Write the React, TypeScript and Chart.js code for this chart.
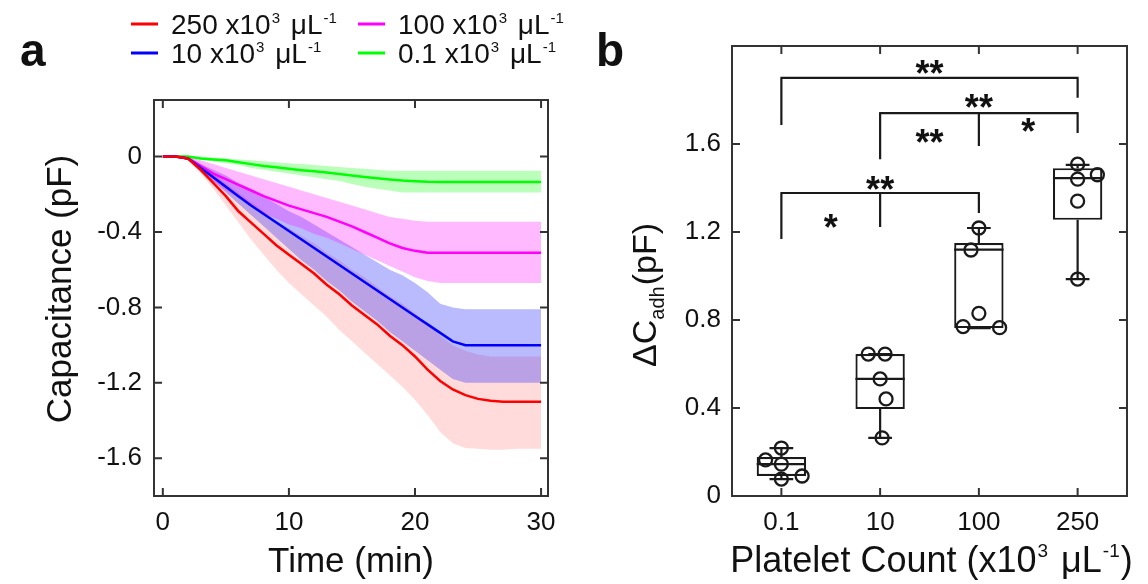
import React, { useEffect, useRef } from 'react';
import { Chart, registerables } from 'chart.js';

Chart.register(...registerables);

const FONT = '"Liberation Sans", Arial, Helvetica, sans-serif';
const INK = '#111111';
const FRAME = '#333333';

// ---------- Panel a: capacitance change over time (mean and spread) ----------
const TIME_MIN = [0, 1, 2, 3, 4, 5, 6, 7, 8, 9, 10, 11, 12, 13, 14, 15, 16, 17, 18, 19, 20, 21, 22, 23, 24, 25, 26, 27, 28, 29, 30];

const MEAN_250 = [0, 0, -0.01, -0.07, -0.14, -0.21, -0.29, -0.35, -0.41, -0.47, -0.52, -0.57, -0.62, -0.68, -0.73, -0.79, -0.84, -0.89, -0.95, -1.0, -1.06, -1.13, -1.19, -1.235, -1.265, -1.285, -1.295, -1.3, -1.3, -1.3, -1.3];
const LOW_250 = [0, 0, -0.02, -0.09, -0.17, -0.26, -0.35, -0.44, -0.52, -0.6, -0.67, -0.73, -0.79, -0.85, -0.92, -0.98, -1.04, -1.1, -1.16, -1.22, -1.29, -1.37, -1.46, -1.52, -1.545, -1.55, -1.555, -1.555, -1.55, -1.55, -1.55];
const HIGH_250 = [0, 0, 0, -0.04, -0.09, -0.14, -0.19, -0.24, -0.29, -0.34, -0.38, -0.42, -0.46, -0.51, -0.55, -0.6, -0.64, -0.69, -0.74, -0.78, -0.83, -0.89, -0.95, -1.0, -1.03, -1.05, -1.06, -1.06, -1.06, -1.06, -1.06];

const MEAN_100 = [0, 0, -0.01, -0.05, -0.09, -0.12, -0.15, -0.18, -0.21, -0.235, -0.26, -0.28, -0.3, -0.32, -0.345, -0.37, -0.4, -0.43, -0.46, -0.485, -0.5, -0.51, -0.51, -0.51, -0.51, -0.51, -0.51, -0.51, -0.51, -0.51, -0.51];
const LOW_100 = [0, 0, -0.02, -0.08, -0.13, -0.18, -0.22, -0.26, -0.3, -0.33, -0.36, -0.38, -0.41, -0.43, -0.46, -0.49, -0.52, -0.55, -0.58, -0.61, -0.64, -0.66, -0.67, -0.67, -0.67, -0.67, -0.67, -0.67, -0.67, -0.67, -0.67];
const HIGH_100 = [0, 0, 0, -0.02, -0.04, -0.06, -0.08, -0.1, -0.12, -0.14, -0.16, -0.18, -0.2, -0.22, -0.24, -0.26, -0.28, -0.3, -0.32, -0.33, -0.34, -0.345, -0.345, -0.345, -0.345, -0.345, -0.345, -0.345, -0.345, -0.345, -0.345];

const MEAN_10 = [0, 0, -0.01, -0.06, -0.11, -0.16, -0.21, -0.26, -0.305, -0.35, -0.395, -0.44, -0.485, -0.53, -0.575, -0.62, -0.665, -0.71, -0.755, -0.8, -0.845, -0.89, -0.935, -0.98, -1.0, -1.0, -1.0, -1.0, -1.0, -1.0, -1.0];
const LOW_10 = [0, 0, -0.02, -0.07, -0.13, -0.19, -0.25, -0.31, -0.37, -0.43, -0.49, -0.55, -0.6, -0.66, -0.71, -0.77, -0.82, -0.87, -0.93, -0.98, -1.03, -1.08, -1.13, -1.18, -1.2, -1.2, -1.2, -1.2, -1.2, -1.2, -1.2];
const HIGH_10 = [0, 0, 0, -0.04, -0.07, -0.1, -0.14, -0.17, -0.21, -0.25, -0.29, -0.32, -0.36, -0.4, -0.44, -0.48, -0.52, -0.56, -0.6, -0.63, -0.67, -0.72, -0.78, -0.8, -0.81, -0.81, -0.81, -0.81, -0.81, -0.81, -0.81];

const MEAN_01 = [0, 0, 0, -0.01, -0.015, -0.02, -0.03, -0.04, -0.05, -0.057, -0.065, -0.072, -0.078, -0.085, -0.093, -0.1, -0.108, -0.115, -0.121, -0.127, -0.131, -0.134, -0.135, -0.135, -0.135, -0.135, -0.135, -0.135, -0.135, -0.135, -0.135];
const LOW_01 = [0, 0, 0, -0.015, -0.025, -0.035, -0.045, -0.06, -0.07, -0.08, -0.09, -0.1, -0.11, -0.12, -0.13, -0.145, -0.16, -0.17, -0.18, -0.19, -0.19, -0.19, -0.19, -0.19, -0.19, -0.19, -0.19, -0.19, -0.19, -0.19, -0.19];
const HIGH_01 = [0, 0, 0, 0, -0.005, -0.01, -0.015, -0.02, -0.025, -0.03, -0.035, -0.04, -0.045, -0.05, -0.055, -0.06, -0.065, -0.07, -0.075, -0.075, -0.075, -0.075, -0.075, -0.075, -0.075, -0.075, -0.075, -0.075, -0.075, -0.075, -0.075];

const TIME_TICKS = [0, 10, 20, 30];
const CAPACITANCE_TICKS = [0, -0.4, -0.8, -1.2, -1.6];

// Legend order: row-major, two columns
const LEGEND_COUNTS = ['250', '100', '10', '0.1'];
const LEGEND_COLORS = ['#ff0000', '#ff00ff', '#0000ff', '#00ff00'];

// ---------- Panel b: adhesion capacitance per platelet count ----------
const COUNT_LABELS = ['0.1', '10', '100', '250'];
const WHISKER_LOW = [0.077, 0.264, 0.763, 0.986];
const BOX_Q1 = [0.091, 0.395, 0.763, 1.255];
const BOX_MEDIAN = [0.145, 0.532, 1.12, 1.445];
const BOX_Q3 = [0.177, 0.645, 1.15, 1.49];
const WHISKER_HIGH = [0.218, 0.645, 1.218, 1.505];

const POINT_GROUP = [0, 0, 0, 0, 0, 1, 1, 1, 1, 1, 2, 2, 2, 2, 2, 3, 3, 3, 3, 3];
const POINT_SHIFT = [-0.16, 0, 0, 0, 0.21, -0.12, 0.05, 0, 0.06, 0.02, 0, -0.08, 0, -0.16, 0.21, 0, 0, 0.2, 0, 0];
const POINT_VALUE = [0.164, 0.218, 0.145, 0.077, 0.091, 0.645, 0.645, 0.532, 0.441, 0.264, 1.218, 1.118, 0.83, 0.77, 0.765, 1.508, 1.44, 1.46, 1.34, 0.986];

const ADHESION_TICKS = [0, 0.4, 0.8, 1.2, 1.6];

// Significance brackets: bar height and leg ends [group, lower end]
const BRACKET_BAR = [1.9, 1.74, 1.377];
const BRACKET_LEGS = [
  [[0, 1.686], [3, 1.81]],
  [[1, 1.53], [2, 1.59], [3, 1.65]],
  [[0, 1.168], [1, 1.223], [2, 1.286]],
];
const SIG_X = [1.5, 2.0, 1.5, 2.5, 1.0, 0.5];
const SIG_Y = [1.945, 1.79, 1.63, 1.68, 1.42, 1.245];
const SIG_TEXT = ['**', '**', '**', '*', '**', '*'];

// ---------- text helpers ----------
type Run = { t: string; size: number; dy?: number; gap?: number };

function runsWidth(ctx: CanvasRenderingContext2D, runs: Run[]) {
  let w = 0;
  for (const r of runs) {
    ctx.font = `${r.size}px ${FONT}`;
    w += ctx.measureText(r.t).width + (r.gap || 0);
  }
  return w;
}

function drawRuns(ctx: CanvasRenderingContext2D, runs: Run[], x: number, y: number, align: 'left' | 'center') {
  let cx = align === 'center' ? x - runsWidth(ctx, runs) / 2 : x;
  ctx.textAlign = 'left';
  ctx.textBaseline = 'alphabetic';
  for (const r of runs) {
    ctx.font = `${r.size}px ${FONT}`;
    ctx.fillText(r.t, cx, y + (r.dy || 0));
    cx += ctx.measureText(r.t).width + (r.gap || 0);
  }
}

function unitRuns(prefix: string, size: number, sup: number, lift: number): Run[] {
  return [
    { t: prefix + 'x10', size, gap: 1 },
    { t: '3', size: sup, dy: -lift, gap: 3 },
    { t: ' \u03bcL', size, gap: 1 },
    { t: '-1', size: sup, dy: -lift },
  ];
}

// Box frame with inward ticks on all four sides
const framePlugin = {
  id: 'frameTicks',
  afterDraw(chart: any) {
    const { ctx, chartArea: a, scales } = chart;
    const L = 8;
    ctx.save();
    ctx.strokeStyle = FRAME;
    ctx.lineWidth = 2;
    ctx.strokeRect(a.left, a.top, a.right - a.left, a.bottom - a.top);
    ctx.beginPath();
    for (const t of scales.x.ticks) {
      const px = scales.x.getPixelForValue(t.value);
      ctx.moveTo(px, a.bottom);
      ctx.lineTo(px, a.bottom - L);
      ctx.moveTo(px, a.top);
      ctx.lineTo(px, a.top + L);
    }
    for (const t of scales.y.ticks) {
      const py = scales.y.getPixelForValue(t.value);
      ctx.moveTo(a.left, py);
      ctx.lineTo(a.left + L, py);
      ctx.moveTo(a.right, py);
      ctx.lineTo(a.right - L, py);
    }
    ctx.stroke();
    ctx.restore();
  },
};

const panelAText = {
  id: 'panelAText',
  afterDraw(chart: any) {
    const { ctx, chartArea: a } = chart;
    ctx.save();
    ctx.fillStyle = INK;
    ctx.font = `bold 46px ${FONT}`;
    ctx.textAlign = 'left';
    ctx.textBaseline = 'alphabetic';
    ctx.fillText('a', 20, 66);

    // legend, two columns
    const colX = [131, 358];
    const rowY = [24, 53];
    LEGEND_COUNTS.forEach((c, i) => {
      const x = colX[i % 2];
      const y = rowY[Math.floor(i / 2)];
      ctx.strokeStyle = LEGEND_COLORS[i];
      ctx.lineWidth = 3;
      ctx.beginPath();
      ctx.moveTo(x, y);
      ctx.lineTo(x + 27, y);
      ctx.stroke();
      ctx.fillStyle = INK;
      drawRuns(ctx, unitRuns(c + ' ', 28, 15, 11), x + 40, y + 10, 'left');
    });

    // axis titles
    ctx.fillStyle = INK;
    ctx.save();
    ctx.translate(71, (a.top + a.bottom) / 2 - 9);
    ctx.rotate(-Math.PI / 2);
    drawRuns(ctx, [{ t: 'Capacitance (pF)', size: 35 }], 0, 0, 'center');
    ctx.restore();
    drawRuns(ctx, [{ t: 'Time (min)', size: 35 }], (a.left + a.right) / 2, 572, 'center');
    ctx.restore();
  },
};

const panelBMarks = {
  id: 'panelBMarks',
  afterDatasetsDraw(chart: any) {
    const { ctx, scales } = chart;
    const xs = scales.x;
    const ys = scales.y;
    const X = (v: number) => xs.getPixelForValue(v);
    const Y = (v: number) => ys.getPixelForValue(v);
    ctx.save();
    ctx.strokeStyle = '#1a1a1a';
    ctx.lineWidth = 2.2;
    ctx.lineCap = 'butt';
    ctx.beginPath();
    for (let i = 0; i < COUNT_LABELS.length; i++) {
      // whiskers and caps
      ctx.moveTo(X(i), Y(BOX_Q3[i]));
      ctx.lineTo(X(i), Y(WHISKER_HIGH[i]));
      ctx.moveTo(X(i), Y(BOX_Q1[i]));
      ctx.lineTo(X(i), Y(WHISKER_LOW[i]));
      ctx.moveTo(X(i - 0.12), Y(WHISKER_HIGH[i]));
      ctx.lineTo(X(i + 0.12), Y(WHISKER_HIGH[i]));
      ctx.moveTo(X(i - 0.12), Y(WHISKER_LOW[i]));
      ctx.lineTo(X(i + 0.12), Y(WHISKER_LOW[i]));
      // median
      ctx.moveTo(X(i - 0.25), Y(BOX_MEDIAN[i]));
      ctx.lineTo(X(i + 0.25), Y(BOX_MEDIAN[i]));
    }
    // significance brackets
    BRACKET_LEGS.forEach((legs, b) => {
      const yb = Y(BRACKET_BAR[b]);
      ctx.moveTo(X(legs[0][0]) - 1, yb);
      ctx.lineTo(X(legs[legs.length - 1][0]) + 1, yb);
      for (const [g, end] of legs) {
        ctx.moveTo(X(g), yb);
        ctx.lineTo(X(g), Y(end));
      }
    });
    ctx.stroke();

    ctx.fillStyle = INK;
    ctx.font = `bold 36px ${FONT}`;
    ctx.textAlign = 'center';
    ctx.textBaseline = 'alphabetic';
    SIG_TEXT.forEach((s, i) => {
      ctx.fillText(s, X(SIG_X[i]), Y(SIG_Y[i]) + 18);
    });
    ctx.restore();
  },
};

const panelBText = {
  id: 'panelBText',
  afterDraw(chart: any) {
    const { ctx, chartArea: a } = chart;
    ctx.save();
    ctx.fillStyle = INK;
    ctx.font = `bold 46px ${FONT}`;
    ctx.textAlign = 'left';
    ctx.textBaseline = 'alphabetic';
    ctx.fillText('b', 22, 66);

    ctx.save();
    ctx.translate(82, 295);
    ctx.rotate(-Math.PI / 2);
    drawRuns(
      ctx,
      [
        { t: '\u0394C', size: 34 },
        { t: 'adh', size: 20, dy: 8, gap: 1 },
        { t: '(pF)', size: 34 },
      ],
      0,
      0,
      'center'
    );
    ctx.restore();

    drawRuns(
      ctx,
      [
        { t: 'Platelet Count (x10', size: 36, gap: 1 },
        { t: '3', size: 19, dy: -15, gap: 3 },
        { t: ' \u03bcL', size: 36, gap: 1 },
        { t: '-1', size: 19, dy: -15, gap: 1 },
        { t: ')', size: 36 },
      ],
      (a.left + a.right) / 2 + 2,
      572,
      'center'
    );
    ctx.restore();
  },
};

const tickFont = { family: FONT, size: 26 };

function fixedTicks(values: number[]) {
  return (scale: any) => {
    scale.ticks = values.map((v) => ({ value: v }));
  };
}

function buildPanelA(canvas: HTMLCanvasElement) {
  const pts = (ys: number[]) => TIME_MIN.map((t, i) => ({ x: t, y: ys[i] }));
  const line = (ys: number[], color: string) => ({
    data: pts(ys),
    borderColor: color,
    borderWidth: 2.5,
    pointRadius: 0,
    fill: false,
    tension: 0,
  });
  const edge = (ys: number[], fill: any, bg: string) => ({
    data: pts(ys),
    borderWidth: 0,
    borderColor: 'rgba(0,0,0,0)',
    backgroundColor: bg,
    pointRadius: 0,
    fill,
    tension: 0,
  });
  return new Chart(canvas, {
    type: 'line',
    data: {
      datasets: [
        line(MEAN_250, '#ff0000'),
        line(MEAN_10, '#0000ff'),
        line(MEAN_100, '#ff00ff'),
        line(MEAN_01, '#00ff00'),
        edge(LOW_01, false, 'rgba(0,0,0,0)'),
        edge(HIGH_01, '-1', 'rgba(0,255,0,0.27)'),
        edge(LOW_100, false, 'rgba(0,0,0,0)'),
        edge(HIGH_100, '-1', 'rgba(255,0,255,0.27)'),
        edge(LOW_10, false, 'rgba(0,0,0,0)'),
        edge(HIGH_10, '-1', 'rgba(0,0,255,0.27)'),
        edge(LOW_250, false, 'rgba(0,0,0,0)'),
        edge(HIGH_250, '-1', 'rgba(255,0,0,0.14)'),
      ] as any,
    },
    options: {
      animation: false,
      responsive: false,
      events: [],
      layout: { padding: { left: 0, top: 100, right: 52, bottom: 0 } },
      plugins: { legend: { display: false }, tooltip: { enabled: false } },
      scales: {
        x: {
          type: 'linear',
          min: -0.7,
          max: 30.55,
          grid: { display: false, drawTicks: false },
          border: { display: false },
          afterBuildTicks: fixedTicks(TIME_TICKS),
          afterFit: (s: any) => {
            s.height = 88;
          },
          ticks: { font: tickFont, color: INK, padding: 11, maxRotation: 0, autoSkip: false, callback: (v: any) => String(v) },
        },
        y: {
          type: 'linear',
          min: -1.8,
          max: 0.3,
          grid: { display: false, drawTicks: false },
          border: { display: false },
          afterBuildTicks: fixedTicks(CAPACITANCE_TICKS),
          afterFit: (s: any) => {
            s.width = 154;
          },
          ticks: { font: tickFont, color: INK, padding: 12, autoSkip: false, callback: (v: any) => String(v) },
        },
      },
    } as any,
    plugins: [framePlugin, panelAText],
  });
}

function buildPanelB(canvas: HTMLCanvasElement) {
  return new Chart(canvas, {
    type: 'scatter',
    data: {
      datasets: [
        {
          type: 'scatter',
          data: POINT_VALUE.map((v, i) => ({ x: POINT_GROUP[i] + POINT_SHIFT[i], y: v })),
          pointRadius: 6.5,
          pointBorderWidth: 2.3,
          pointBackgroundColor: 'rgba(0,0,0,0)',
          pointBorderColor: '#1a1a1a',
          showLine: false,
        },
        {
          type: 'bar',
          data: BOX_Q1.map((q1, i) => ({ x: i, y: [q1, BOX_Q3[i]] })),
          backgroundColor: '#ffffff',
          borderColor: '#1a1a1a',
          borderWidth: 2.2,
          borderSkipped: false,
          categoryPercentage: 1,
          barPercentage: 0.5,
        },
      ] as any,
    },
    options: {
      animation: false,
      responsive: false,
      events: [],
      layout: { padding: { left: 0, top: 46, right: 21, bottom: 0 } },
      plugins: { legend: { display: false }, tooltip: { enabled: false } },
      scales: {
        x: {
          type: 'linear',
          min: -0.5,
          max: 3.5,
          offset: false,
          grid: { display: false, drawTicks: false },
          border: { display: false },
          afterBuildTicks: fixedTicks([0, 1, 2, 3]),
          afterFit: (s: any) => {
            s.height = 88;
          },
          ticks: {
            font: tickFont,
            color: INK,
            padding: 11,
            maxRotation: 0,
            autoSkip: false,
            callback: (v: any) => COUNT_LABELS[Math.round(v)] ?? '',
          },
        },
        y: {
          type: 'linear',
          min: 0,
          max: 2.045,
          grid: { display: false, drawTicks: false },
          border: { display: false },
          afterBuildTicks: fixedTicks(ADHESION_TICKS),
          afterFit: (s: any) => {
            s.width = 158;
          },
          ticks: { font: tickFont, color: INK, padding: 11, autoSkip: false, callback: (v: any) => String(v) },
        },
      },
    } as any,
    plugins: [panelBMarks, framePlugin, panelBText],
  });
}

export default function App() {
  const refA = useRef<HTMLCanvasElement>(null);
  const refB = useRef<HTMLCanvasElement>(null);

  useEffect(() => {
    const a = buildPanelA(refA.current!);
    const b = buildPanelB(refB.current!);
    return () => {
      a.destroy();
      b.destroy();
    };
  }, []);

  return (
    <div style={{ position: 'fixed', left: 0, top: 0, width: 1148, height: 584, background: '#ffffff', overflow: 'hidden' }}>
      <canvas ref={refA} width={600} height={584} style={{ position: 'absolute', left: 0, top: 0, width: 600, height: 584 }} />
      <canvas ref={refB} width={574} height={584} style={{ position: 'absolute', left: 574, top: 0, width: 574, height: 584 }} />
    </div>
  );
}
